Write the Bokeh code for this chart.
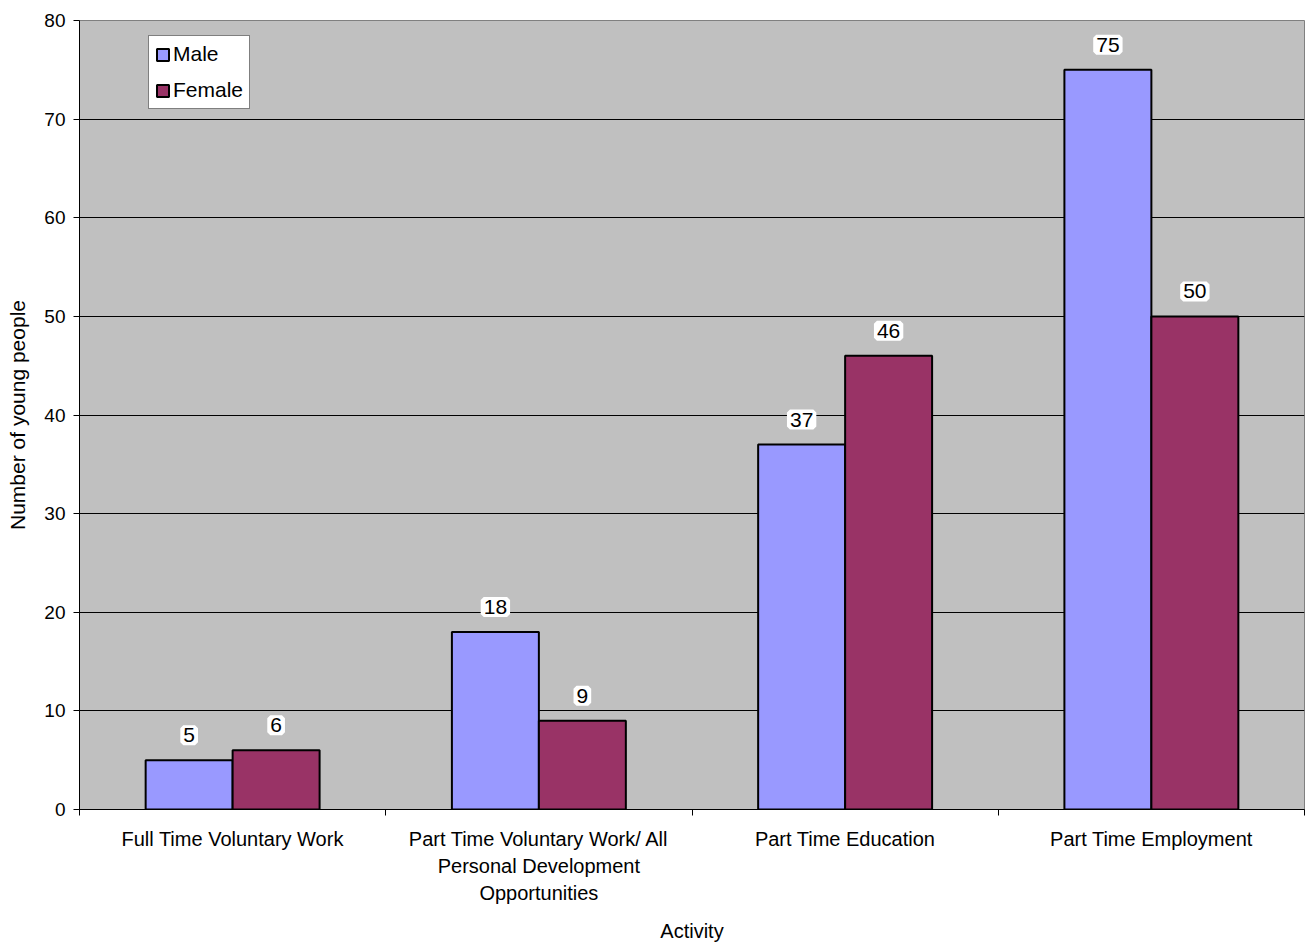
from bokeh.plotting import figure
from bokeh.models import (Range1d, LinearAxis, FixedTicker,
                          ColumnDataSource, LabelSet, Legend, LegendItem)
from bokeh.core.properties import value
from bokeh.transform import dodge
from bokeh.embed import file_html
from bokeh.resources import INLINE

categories = ["Full Time Voluntary Work",
              "Part Time Voluntary Work/ All\nPersonal Development\nOpportunities",
              "Part Time Education",
              "Part Time Employment"]
male = [5, 18, 37, 75]
female = [6, 9, 46, 50]
y_ticks = [0, 10, 20, 30, 40, 50, 60, 70, 80]

FONT = "Liberation Sans"
pos = [i + 0.5 for i in range(len(categories))]
bounds = list(range(len(categories) + 1))
src = ColumnDataSource(dict(pos=pos, cat=categories, male=male, female=female,
                            mlab=[str(v) for v in male], flab=[str(v) for v in female]))

p = figure(x_range=Range1d(0, len(categories)), y_range=Range1d(0, 80),
           width=1306, height=945, output_backend="svg", toolbar_location=None,
           x_axis_location=None, y_axis_location="left",
           min_border_left=79, min_border_top=20, min_border_right=2, min_border_bottom=130)
p.background_fill_color = "#C0C0C0"
p.border_fill_color = "white"
p.outline_line_color = "#808080"
p.outline_line_width = 1
p.xgrid.visible = False
p.ygrid.grid_line_color = "black"
p.ygrid.grid_line_width = 1
p.ygrid.ticker = FixedTicker(ticks=y_ticks)

ya = p.yaxis[0]
ya.ticker = FixedTicker(ticks=y_ticks)
ya.axis_line_color = "black"
ya.major_tick_line_color = "black"
ya.major_tick_out = 6
ya.major_tick_in = 0
ya.minor_tick_line_color = None
ya.major_label_text_font = FONT
ya.major_label_text_font_size = "19px"
ya.major_label_text_color = "black"
ya.major_label_standoff = 8
ya.axis_label = "Number of young people"
ya.axis_label_text_font = FONT
ya.axis_label_text_font_size = "21px"
ya.axis_label_text_font_style = "normal"
ya.axis_label_text_color = "black"
ya.axis_label_standoff = 12

cat_axis = LinearAxis(ticker=FixedTicker(ticks=pos, minor_ticks=bounds))
cat_axis.major_label_overrides = {pos[i]: categories[i] for i in range(len(categories))}
cat_axis.axis_line_color = "black"
cat_axis.major_tick_line_color = None
cat_axis.major_tick_out = 0
cat_axis.major_tick_in = 0
cat_axis.minor_tick_line_color = "black"
cat_axis.minor_tick_out = 6
cat_axis.minor_tick_in = 0
cat_axis.major_label_text_font = FONT
cat_axis.major_label_text_font_size = "20px"
cat_axis.major_label_text_color = "black"
cat_axis.major_label_text_line_height = 1.24
cat_axis.major_label_standoff = 12
cat_axis.axis_label = "Activity"
cat_axis.axis_label_text_font = FONT
cat_axis.axis_label_text_font_size = "20px"
cat_axis.axis_label_text_font_style = "normal"
cat_axis.axis_label_text_color = "black"
cat_axis.axis_label_standoff = 13
p.add_layout(cat_axis, "below")

bw = 0.284
rm = p.vbar(x=dodge("pos", -bw / 2), top="male", width=bw, source=src,
            fill_color="#9999FF", line_color="black", line_width=2)
rf = p.vbar(x=dodge("pos", bw / 2), top="female", width=bw, source=src,
            fill_color="#993366", line_color="black", line_width=2)

for col, lab, off in [("male", "mlab", -bw / 2), ("female", "flab", bw / 2)]:
    ls = LabelSet(x=dodge("pos", off), y=col, text=lab, source=src,
                  text_align="center", text_baseline="middle", y_offset=25,
                  text_font=value(FONT), text_font_size=value("21px"), text_color="black",
                  background_fill_color="white", border_line_color="white",
                  border_line_width=6)
    p.add_layout(ls)

legend = Legend(items=[LegendItem(label="Male", renderers=[rm]),
                       LegendItem(label="Female", renderers=[rf])],
                location=(69, 700))
legend.label_text_font = FONT
legend.label_text_font_size = "21px"
legend.label_text_color = "black"
legend.glyph_width = 15
legend.glyph_height = 15
legend.label_standoff = 3
legend.spacing = 12
legend.padding = 6
legend.margin = 0
legend.border_line_color = "black"
legend.border_line_width = 1
legend.background_fill_color = "white"
legend.background_fill_alpha = 1
legend.label_height = 21
p.add_layout(legend, "center")

open("out.html", "w").write(file_html(p, INLINE))
